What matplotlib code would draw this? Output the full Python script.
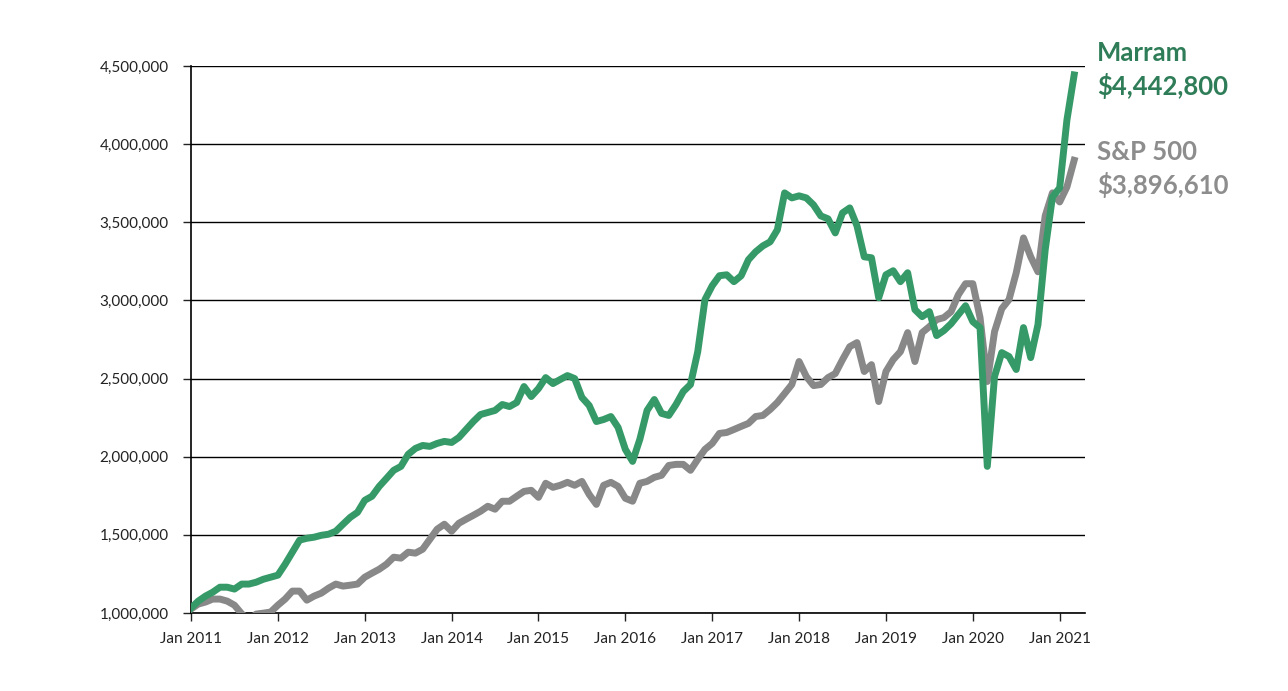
import matplotlib
matplotlib.use('Agg')
import matplotlib.pyplot as plt
from matplotlib.ticker import FuncFormatter
import numpy as np

# Monthly growth of $1,000,000, Jan 2011 - Mar 2021 (values in thousands)
marram = [
    1031, 1076, 1108, 1133, 1165, 1165, 1153, 1185, 1185, 1197, 1216, 1229,
    1242, 1312, 1389, 1466, 1478, 1485, 1497, 1504, 1523, 1568, 1612, 1644,
    1721, 1747, 1810, 1861, 1913, 1938, 2015, 2053, 2072, 2066, 2085, 2098,
    2091, 2123, 2174, 2225, 2270, 2283, 2296, 2334, 2321, 2347, 2449, 2385,
    2436, 2506, 2468, 2494, 2519, 2500, 2379, 2328, 2225, 2238, 2257, 2187,
    2047, 1970, 2111, 2296, 2366, 2277, 2264, 2334, 2417, 2462, 2672, 3005,
    3094, 3158, 3164, 3120, 3158, 3260, 3311, 3349, 3375, 3452, 3688, 3656,
    3669, 3656, 3611, 3541, 3522, 3432, 3560, 3592, 3477, 3279, 3273, 3017,
    3164, 3190, 3120, 3177, 2941, 2896, 2928, 2775, 2807, 2851, 2909, 2966,
    2864, 2826, 1938, 2513, 2666, 2641, 2558, 2826, 2634, 2845, 3324, 3662,
    3720, 4154, 4442.8,
]
sp500 = [
    1025, 1057, 1070, 1089, 1089, 1076, 1050, 995, 955, 993, 999, 1006,
    1050, 1089, 1140, 1140, 1082, 1108, 1127, 1159, 1185, 1172, 1178, 1185,
    1229, 1255, 1280, 1312, 1357, 1351, 1389, 1383, 1408, 1472, 1536, 1568,
    1523, 1574, 1600, 1625, 1651, 1683, 1664, 1715, 1715, 1747, 1778, 1785,
    1740, 1830, 1804, 1817, 1836, 1817, 1842, 1759, 1695, 1817, 1836, 1810,
    1734, 1715, 1830, 1842, 1868, 1881, 1944, 1951, 1951, 1913, 1983, 2047,
    2085, 2149, 2155, 2174, 2194, 2213, 2257, 2264, 2302, 2347, 2404, 2462,
    2609, 2513, 2455, 2462, 2506, 2532, 2621, 2704, 2730, 2545, 2589, 2353,
    2545, 2621, 2672, 2794, 2609, 2794, 2832, 2877, 2890, 2928, 3036, 3107,
    3107, 2890, 2481, 2800, 2947, 3005, 3177, 3400, 3279, 3183, 3541, 3688,
    3630, 3726, 3896.61,
]
year_labels = ['Jan 2011', 'Jan 2012', 'Jan 2013', 'Jan 2014', 'Jan 2015', 'Jan 2016',
               'Jan 2017', 'Jan 2018', 'Jan 2019', 'Jan 2020', 'Jan 2021']
y_ticks = [1000000, 1500000, 2000000, 2500000, 3000000, 3500000, 4000000, 4500000]

green = '#369a68'
green_text = '#2f7d58'
grey = '#888888'
grey_text = '#8d8d8d'

plt.rcParams['font.family'] = ['Lato', 'DejaVu Sans']

months = np.arange(len(marram))
fig = plt.figure(figsize=(12.88, 6.91), dpi=100)
ax = fig.add_axes([0.1483, 0.1129, 0.6941, 0.7916])

ax.plot(months, np.array(sp500) * 1000, color=grey, lw=5, solid_joinstyle='round', zorder=3)
ax.plot(months, np.array(marram) * 1000, color=green, lw=5, solid_joinstyle='round', zorder=4)

ax.set_ylim(1000000, 4500000)
ax.set_xlim(0, 123.5)
ax.set_yticks(y_ticks)
ax.yaxis.set_major_formatter(FuncFormatter(lambda v, p: f'{int(v):,}'))
ax.set_xticks(np.arange(0, 121, 12))
ax.set_xticklabels(year_labels)
ax.tick_params(axis='both', labelsize=11, colors='#222222', length=6, width=1, direction='out')
ax.tick_params(axis='x', pad=8)
ax.tick_params(axis='y', pad=10)

ax.grid(True, axis='y', color='black', lw=1)
ax.set_axisbelow(True)
for s in ['top', 'right']:
    ax.spines[s].set_visible(False)
for s in ['left', 'bottom']:
    ax.spines[s].set_color('black')
    ax.spines[s].set_linewidth(1.2)

# end labels
fig.text(1097 / 1288, 1 - 53 / 691, 'Marram', color=green_text, fontsize=18.5,
         fontweight='bold', va='center', ha='left')
fig.text(1097 / 1288, 1 - 86 / 691, '$4,442,800', color=green_text, fontsize=18.5,
         fontweight='bold', va='center', ha='left')
fig.text(1097 / 1288, 1 - 152 / 691, 'S&P 500', color=grey_text, fontsize=18.5,
         fontweight='bold', va='center', ha='left')
fig.text(1097 / 1288, 1 - 185 / 691, '$3,896,610', color=grey_text, fontsize=18.5,
         fontweight='bold', va='center', ha='left')

fig.savefig('out.png', dpi=100)
